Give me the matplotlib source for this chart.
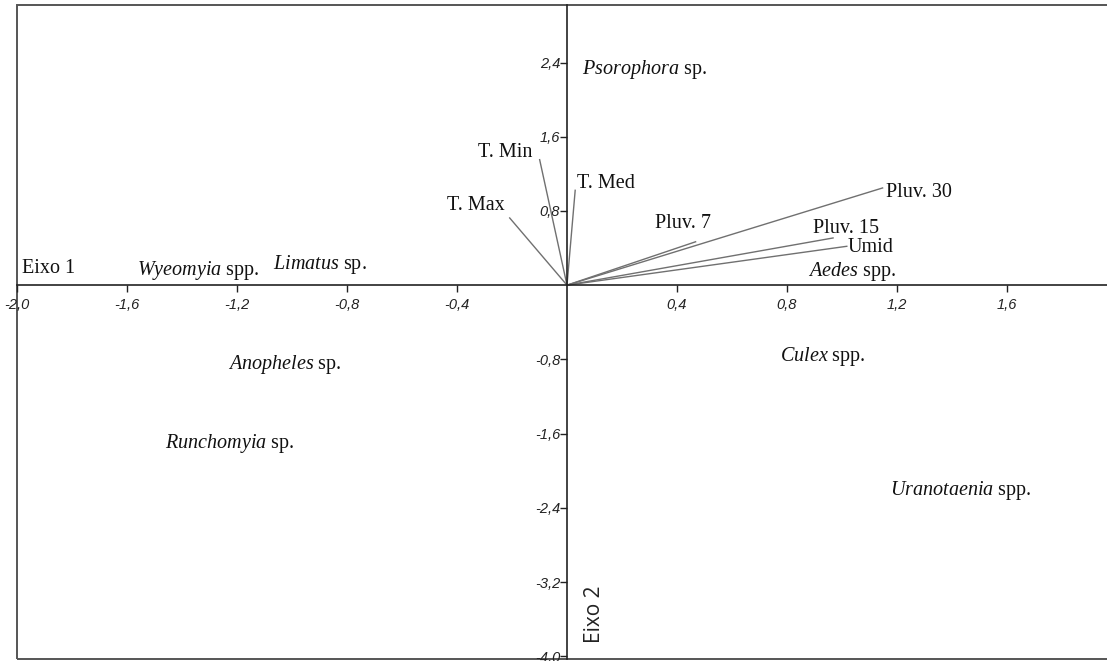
"""CCA biplot: mosquito genera against climatic variables (axes 1 and 2)."""
import matplotlib

matplotlib.use("Agg")
import matplotlib.pyplot as plt
from matplotlib.patches import Rectangle
from matplotlib.ticker import FixedLocator, FuncFormatter

# Environmental vectors (biplot scores, axis 1 / axis 2)
env_names = ["T. Max", "T. Min", "T. Med", "Pluv. 7", "Pluv. 30", "Pluv. 15", "Umid"]
env_ax1 = [-0.21, -0.10, 0.03, 0.47, 1.15, 0.97, 1.02]
env_ax2 = [0.73, 1.36, 1.03, 0.47, 1.05, 0.51, 0.42]
# where each vector's name sits
env_label_x = [-0.438, -0.324, 0.036, 0.320, 1.160, 0.895, 1.022]
env_label_y = [0.86, 1.43, 1.10, 0.67, 1.00, 0.61, 0.41]

# Genus scores: italic genus name + plain suffix
genus = ["Psorophora", "Wyeomyia", "Limatus", "Aedes", "Anopheles",
         "Culex", "Runchomyia", "Uranotaenia"]
suffix = ["sp.", "spp.", "sp.", "spp.", "sp.", "spp.", "sp.", "spp."]
genus_ax1 = [0.055, -1.564, -1.069, 0.876, -1.233, 0.775, -1.462, 1.175]
genus_ax2 = [2.32, 0.16, 0.22, 0.15, -0.85, -0.77, -1.71, -2.21]

x_ticks = [-2.0, -1.6, -1.2, -0.8, -0.4, 0.4, 0.8, 1.2, 1.6]
y_ticks = [2.4, 1.6, 0.8, -0.8, -1.6, -2.4, -3.2, -4.0]

plt.rcParams["font.family"] = "Liberation Serif"
plt.rcParams["mathtext.fontset"] = "custom"
plt.rcParams["mathtext.rm"] = "Liberation Serif"
plt.rcParams["mathtext.it"] = "Liberation Serif:italic"

W, H = 1107, 661
fig = plt.figure(figsize=(W / 100, H / 100), dpi=100)
ax = fig.add_axes([17 / W, 2 / H, (W - 17) / W, 654 / H])
ax.set_xlim(-2.0, -2.0 + (W - 17) / 275)
ax.set_ylim(-4.03, 3.02)

# axes crossing at the origin
for side in ("top", "right"):
    ax.spines[side].set_visible(False)
ax.spines["left"].set_position(("data", 0))
ax.spines["bottom"].set_position(("data", 0))
for side in ("left", "bottom"):
    ax.spines[side].set_color("#222222")
    ax.spines[side].set_linewidth(1.2)

# outer frame (right edge runs off the figure)
ax.add_patch(Rectangle((0, 0), 1.05, 1, transform=ax.transAxes, fill=False,
                       edgecolor="#555555", linewidth=1.4, clip_on=False))

comma = FuncFormatter(lambda v, _: f"{v:.1f}".replace(".", ","))
ax.xaxis.set_major_locator(FixedLocator(x_ticks))
ax.yaxis.set_major_locator(FixedLocator(y_ticks))
ax.xaxis.set_major_formatter(comma)
ax.yaxis.set_major_formatter(comma)
ax.tick_params(axis="x", direction="out", length=5, width=1, pad=4, color="#222222")
ax.tick_params(axis="y", direction="out", length=5, width=1, pad=0, color="#222222")
for lab in ax.get_xticklabels() + ax.get_yticklabels():
    lab.set_fontfamily("Liberation Sans")
    lab.set_fontstyle("italic")
    lab.set_fontsize(10.5)
    lab.set_color("#222222")

# environmental vectors
for x, y in zip(env_ax1, env_ax2):
    ax.plot([0, x], [0, y], color="#707070", linewidth=1.0, solid_capstyle="butt")
for name, x, y in zip(env_names, env_label_x, env_label_y):
    ax.text(x, y, name, fontsize=14.5, ha="left", va="center", color="#111111")

# genus labels
for g, s, x, y in zip(genus, suffix, genus_ax1, genus_ax2):
    ax.text(x, y, rf"$\it{{{g}}}$ {s}", fontsize=14.5, ha="left", va="center",
            color="#111111")

# axis names
ax.text(-1.98, 0.18, "Eixo 1", fontsize=14.5, ha="left", va="center", color="#111111")
ax.text(0.10, -3.24, "Eixo 2", fontsize=15, rotation=90, ha="center", va="top",
        fontfamily="Open Sans", color="#222222")

fig.savefig("out.png", dpi=100)
